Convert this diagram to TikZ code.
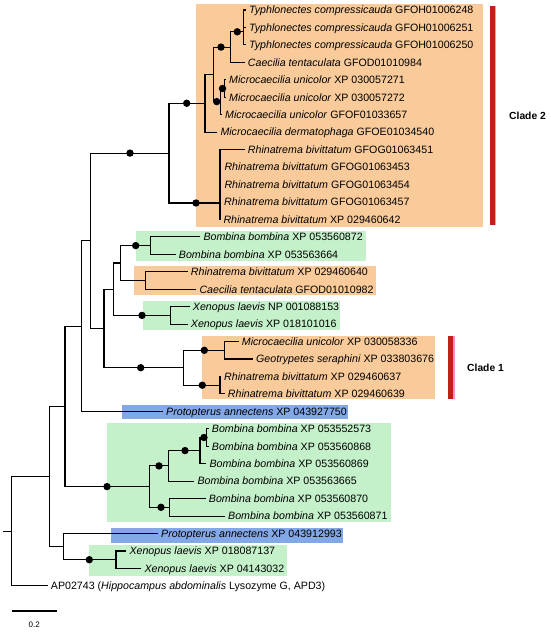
\documentclass[tikz,border=0pt]{standalone}
\usepackage{fontspec}
\setmainfont{Liberation Sans}
\definecolor{orbox}{RGB}{249,203,154}
\definecolor{grbox}{RGB}{196,240,202}
\definecolor{blbox}{RGB}{130,168,232}
\definecolor{cladebar}{RGB}{192,32,24}
\definecolor{barpink}{RGB}{240,150,190}
\tikzset{
  leaf/.style={anchor=west,inner sep=0pt,text height=7.6pt,text depth=0pt,font=\fontsize{10.65}{12}\selectfont},
  br/.style={line width=1.1pt,black},
  lf/.style={line width=1.1pt,black,shorten >=3pt},
  boot/.style={fill=black},
  cladelab/.style={anchor=west,inner sep=0pt,font=\fontsize{10.3}{12}\selectfont\bfseries},
}
\begin{document}
\begin{tikzpicture}[x=1pt,y=-1pt]
\useasboundingbox (0,0) rectangle (550,632);
% background boxes
\fill[orbox] (196,4) rectangle (482.7,226.7);
\fill[grbox] (136,231) rectangle (365.7,260.7);
\fill[orbox] (134.3,266) rectangle (375.7,295);
\fill[grbox] (142.7,300.7) rectangle (340,330);
\fill[orbox] (202.3,336) rectangle (435,399.3);
\fill[blbox] (122.3,405) rectangle (348.3,418.7);
\fill[grbox] (107,422.7) rectangle (390.7,521.7);
\fill[blbox] (110.7,528.3) rectangle (343.3,542.7);
\fill[grbox] (89.3,545) rectangle (287.3,575.7);
% clade bars
\fill[cladebar] (489.5,6) rectangle (494.5,225);
\fill[barpink] (494.5,6) rectangle (496,225);
\fill[cladebar] (448,336) rectangle (453,399.3);
\fill[barpink] (453,336) rectangle (454.5,399.3);
\node[cladelab] (c2) at (509,115.5) {Clade 2};
\node[cladelab] (c1) at (467,367.5) {Clade 1};
% leaves
\node[leaf] (L1) at (249,10) {\textit{Typhlonectes compressicauda} GFOH01006248};
\node[leaf] (L2) at (249,27.45) {\textit{Typhlonectes compressicauda} GFOH01006251};
\node[leaf] (L3) at (249,44.9) {\textit{Typhlonectes compressicauda} GFOH01006250};
\node[leaf] (L4) at (247.7,62.35) {\textit{Caecilia tentaculata} GFOD01010984};
\node[leaf] (L5) at (229,79.8) {\textit{Microcaecilia unicolor} XP 030057271};
\node[leaf] (L6) at (229,97.25) {\textit{Microcaecilia unicolor} XP 030057272};
\node[leaf] (L7) at (225,114.7) {\textit{Microcaecilia unicolor} GFOF01033657};
\node[leaf] (L8) at (220.3,132.15) {\textit{Microcaecilia dermatophaga} GFOE01034540};
\node[leaf] (L9) at (247.7,149.6) {\textit{Rhinatrema bivittatum} GFOG01063451};
\node[leaf] (L10) at (224.3,167.05) {\textit{Rhinatrema bivittatum} GFOG01063453};
\node[leaf] (L11) at (224.3,184.5) {\textit{Rhinatrema bivittatum} GFOG01063454};
\node[leaf] (L12) at (224,201.95) {\textit{Rhinatrema bivittatum} GFOG01063457};
\node[leaf] (L13) at (223.3,219.4) {\textit{Rhinatrema bivittatum} XP 029460642};
\node[leaf] (L14) at (203.3,236.85) {\textit{Bombina bombina} XP 053560872};
\node[leaf] (L15) at (178.7,254.3) {\textit{Bombina bombina} XP 053563664};
\node[leaf] (L16) at (190.7,271.75) {\textit{Rhinatrema bivittatum} XP 029460640};
\node[leaf] (L17) at (199.3,289.2) {\textit{Caecilia tentaculata} GFOD01010982};
\node[leaf] (L18) at (192.7,306.65) {\textit{Xenopus laevis} NP 001088153};
\node[leaf] (L19) at (190.7,324.1) {\textit{Xenopus laevis} XP 018101016};
\node[leaf] (L20) at (241.7,341.55) {\textit{Microcaecilia unicolor} XP 030058336};
\node[leaf] (L21) at (256,359) {\textit{Geotrypetes seraphini} XP 033803676};
\node[leaf] (L22) at (224,376.45) {\textit{Rhinatrema bivittatum} XP 029460637};
\node[leaf] (L23) at (227.7,393.9) {\textit{Rhinatrema bivittatum} XP 029460639};
\node[leaf] (L24) at (166,411.35) {\textit{Protopterus annectens} XP 043927750};
\node[leaf] (L25) at (211.7,428.8) {\textit{Bombina bombina} XP 053552573};
\node[leaf] (L26) at (211.7,446.25) {\textit{Bombina bombina} XP 053560868};
\node[leaf] (L27) at (209.3,463.7) {\textit{Bombina bombina} XP 053560869};
\node[leaf] (L28) at (197.3,481.15) {\textit{Bombina bombina} XP 053563665};
\node[leaf] (L29) at (208.7,498.6) {\textit{Bombina bombina} XP 053560870};
\node[leaf] (L30) at (228,516.05) {\textit{Bombina bombina} XP 053560871};
\node[leaf] (L31) at (161,533.5) {\textit{Protopterus annectens} XP 043912993};
\node[leaf] (L32) at (129.3,550.95) {\textit{Xenopus laevis} XP 018087137};
\node[leaf] (L33) at (144.3,568.4) {\textit{Xenopus laevis} XP 04143032};
\node[leaf] (L34) at (50.7,585.85) {AP02743 (\textit{Hippocampus abdominalis} Lysozyme G, APD3)};
% internal nodes
\coordinate (T3) at (243.3,31.8);
\coordinate (T34) at (230.7,47.1);
\coordinate (M56) at (224.3,88.5);
\coordinate (M567) at (220.7,101.6);
\coordinate (TM) at (213.3,74.35);
\coordinate (C8) at (205,103.25);
\coordinate (R) at (220,203);
\coordinate (CL2) at (169,153.1);
\coordinate (B2) at (150.7,245.6);
\coordinate (RC) at (145.7,280.5);
\coordinate (BRC) at (120.7,263);
\coordinate (X2) at (170.7,315.4);
\coordinate (BRCX) at (113.3,289.2);
\coordinate (MG) at (224.7,350.3);
\coordinate (RR) at (220,385.2);
\coordinate (CL1) at (183.3,367.7);
\coordinate (D) at (104,328.5);
\coordinate (A) at (90.7,240.8);
\coordinate (E) at (81.7,326.1);
\coordinate (Ba) at (206.7,437.5);
\coordinate (Bb) at (200,450.6);
\coordinate (Bc) at (168.3,465.9);
\coordinate (Bd) at (169.3,507.3);
\coordinate (B6) at (149.3,486.6);
\coordinate (F) at (65,406.4);
\coordinate (X2b) at (116,559.7);
\coordinate (H) at (63.3,546.6);
\coordinate (G) at (49.3,476.5);
\coordinate (ROOT) at (11.7,531.2);
\coordinate (STUB) at (3.3,531.2);
% leaf edges
\draw[lf] (T3) |- (L1); \draw[lf] (T3) |- (L2); \draw[lf] (T3) |- (L3);
\draw[lf] (T34) |- (L4);
\draw[lf] (M56) |- (L5); \draw[lf] (M56) |- (L6);
\draw[lf] (M567) |- (L7);
\draw[lf] (C8) |- (L8);
\draw[lf] (R) |- (L9); \draw[lf] (R) |- (L10); \draw[lf] (R) |- (L11); \draw[lf] (R) |- (L12); \draw[lf] (R) |- (L13);
\draw[lf] (B2) |- (L14); \draw[lf] (B2) |- (L15);
\draw[lf] (RC) |- (L16); \draw[lf] (RC) |- (L17);
\draw[lf] (X2) |- (L18); \draw[lf] (X2) |- (L19);
\draw[lf] (MG) |- (L20); \draw[lf] (MG) |- (L21);
\draw[lf] (RR) |- (L22); \draw[lf] (RR) |- (L23);
\draw[lf] (E) |- (L24);
\draw[lf] (Ba) |- (L25); \draw[lf] (Ba) |- (L26);
\draw[lf] (Bb) |- (L27);
\draw[lf] (Bc) |- (L28);
\draw[lf] (Bd) |- (L29); \draw[lf] (Bd) |- (L30);
\draw[lf] (H) |- (L31);
\draw[lf] (X2b) |- (L32); \draw[lf] (X2b) |- (L33);
\draw[lf] (ROOT) |- (L34);
% internal edges
\draw[br] (T34) |- (T3);
\draw[br] (M567) |- (M56);
\draw[br] (TM) |- (T34); \draw[br] (TM) |- (M567);
\draw[br] (C8) |- (TM);
\draw[br] (CL2) |- (C8); \draw[br] (CL2) |- (R);
\draw[br] (BRC) |- (B2); \draw[br] (BRC) |- (RC);
\draw[br] (BRCX) |- (BRC); \draw[br] (BRCX) |- (X2);
\draw[br] (CL1) |- (MG); \draw[br] (CL1) |- (RR);
\draw[br] (D) |- (BRCX); \draw[br] (D) |- (CL1);
\draw[br] (A) |- (CL2); \draw[br] (A) |- (D);
\draw[br] (E) |- (A);
\draw[br] (Bb) |- (Ba);
\draw[br] (Bc) |- (Bb);
\draw[br] (B6) |- (Bc); \draw[br] (B6) |- (Bd);
\draw[br] (F) |- (E); \draw[br] (F) |- (B6);
\draw[br] (H) |- (X2b);
\draw[br] (G) |- (F); \draw[br] (G) |- (H);
\draw[br] (ROOT) |- (G);
\draw[br] (STUB) -- (ROOT);
% support dots
\fill[boot] (237.3,0 |- T3) circle (3.7);
\fill[boot] (221,0 |- T34) circle (3.7);
\fill[boot] (222.5,0 |- M56) circle (3.7);
\fill[boot] (216.7,0 |- M567) circle (3.7);
\fill[boot] (186.7,0 |- C8) circle (3.7);
\fill[boot] (196,0 |- R) circle (3.7);
\fill[boot] (130,0 |- CL2) circle (3.7);
\fill[boot] (135.7,0 |- B2) circle (3.7);
\fill[boot] (142,0 |- X2) circle (3.7);
\fill[boot] (140.7,0 |- CL1) circle (3.7);
\fill[boot] (204.3,0 |- MG) circle (3.7);
\fill[boot] (202.3,0 |- RR) circle (3.7);
\fill[boot] (204,0 |- Ba) circle (3.7);
\fill[boot] (185,0 |- Bb) circle (3.7);
\fill[boot] (159,0 |- Bc) circle (3.7);
\fill[boot] (161,0 |- Bd) circle (3.7);
\fill[boot] (107,0 |- B6) circle (3.7);
\fill[boot] (89.3,0 |- X2b) circle (3.7);
% scale bar
\coordinate (SB1) at (11.7,611);
\coordinate (SB2) at (57.3,611);
\draw[br] (SB1) -- (SB2);
\node[inner sep=0pt,font=\fontsize{8}{9}\selectfont] (sbl) at (34.2,625) {0.2};
\end{tikzpicture}
\end{document}
